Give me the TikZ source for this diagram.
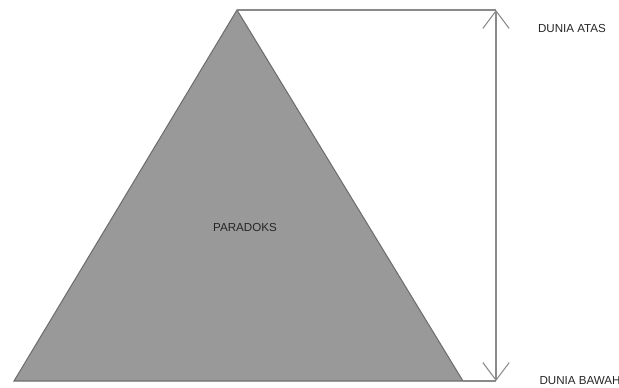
\documentclass[tikz,border=0pt]{standalone}
\usepackage{fontspec}
\setmainfont{Liberation Sans}
\usepackage{tikz}
\usetikzlibrary{arrows.meta}
\definecolor{piramid}{HTML}{999999}
\definecolor{garis}{HTML}{8A8A8A}
\definecolor{tepi}{HTML}{6E6E6E}

\begin{document}
\begin{tikzpicture}[x=0.02cm, y=-0.02cm, font=\fontsize{6.6}{8}\selectfont,
  label/.style={inner sep=0pt, text=black!85},
  connector/.style={draw=garis, line width=0.6pt},
  >={Straight Barb[length=10pt, width=15pt, line width=0.6pt]}]
\useasboundingbox (0,0) rectangle (619,387);
\coordinate (apex) at (237,10);
\coordinate (bl) at (14,381);
\coordinate (br) at (463,381);
\coordinate (topR) at (496,10);
\coordinate (botR) at (496,381);

\filldraw[fill=piramid, draw=tepi, line width=0.6pt] (apex) -- (bl) -- (br) -- cycle;
\node[label] (paradoks) at (245,227) {PARADOKS};
\node[label] (atas) at (572,28) {DUNIA ATAS};
\node[label] (bawah) at (580,381) {DUNIA BAWAH};

\draw[connector] (apex) -- (topR);
\draw[connector] (br) -- (botR);
\draw[connector,<->] (topR) -- (botR);
\end{tikzpicture}
\end{document}
